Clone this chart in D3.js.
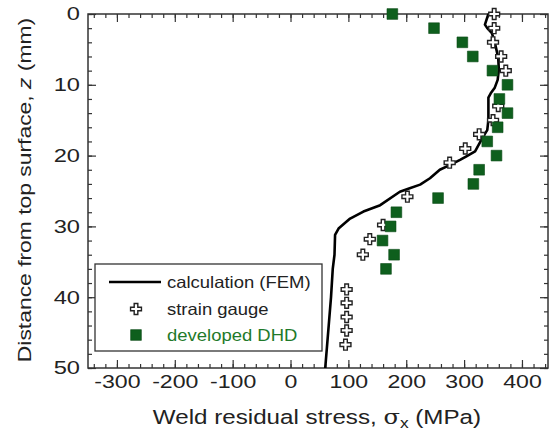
<!DOCTYPE html>
<html>
<head>
<meta charset="utf-8">
<script src="https://cdn.jsdelivr.net/npm/d3@7"></script>
<style>
  body { margin: 0; background: #fff; }
  svg text { font-family: "Liberation Sans", Arial, Helvetica, sans-serif; fill: #222; }
</style>
</head>
<body>
<div id="chart"></div>
<script>
// calculation (FEM): [stress MPa, depth mm]
var femStress = [342, 336, 340, 348, 353, 359, 360, 358, 353, 346, 342, 342, 340, 333, 327, 319, 304, 293, 276, 258, 241, 224, 206, 189, 155, 126, 103, 83, 77, 76, 73, 70, 66, 62, 60];
var femDepth  = [0, 1.5, 2, 2.7, 4, 6.2, 7.9, 9.3, 10.4, 11.2, 11.8, 15, 16.4, 17.3, 18.2, 19.4, 20.1, 20.6, 21.3, 22, 23.2, 24.1, 24.6, 25.1, 27, 27.9, 28.9, 30.3, 31.2, 34, 36, 40, 44, 48, 50];

// strain gauge
var gaugeStress = [352, 352, 350, 364, 372, 359, 350, 326, 302, 275, 202, 160, 137, 125, 97, 97, 97, 97, 95];
var gaugeDepth  = [0, 2, 4, 6, 8, 13, 15, 17, 19, 21, 25.8, 29.8, 31.8, 34, 38.9, 40.8, 42.8, 44.7, 46.7];

// developed DHD
var dhdStress = [176, 248, 297, 315, 349, 375, 361, 375, 358, 340, 356, 326, 316, 255, 183, 173, 159, 179, 165];
var dhdDepth  = [0, 2, 4, 6, 8, 10, 12, 14, 16, 18, 20, 22, 24, 26, 28, 30, 32, 34, 36];

var xTicks = [-300, -200, -100, 0, 100, 200, 300, 400];
var yTicks = [0, 10, 20, 30, 40, 50];
var legendLabels = ["calculation (FEM)", "strain gauge", "developed DHD"];

var width = 554, height = 430;
var plotL = 88, plotR = 548, plotT = 14, plotB = 368;
var green = "#0e5f1d";

var svg = d3.select("#chart").append("svg")
  .attr("width", width)
  .attr("height", height);

var x = d3.scaleLinear().domain([-350, 445]).range([plotL, plotR]);
var y = d3.scaleLinear().domain([0, 50]).range([plotT, plotB]);

var xMinor = d3.range(-340, 445, 20);
var yMinor = d3.range(0, 51, 2);

// the original lettering is wider than Helvetica, so stretch texts horizontally
function stretch(sel, s) {
  sel.each(function() {
    var t = d3.select(this);
    var tx = +t.attr("x") || 0, ty = +t.attr("y") || 0;
    t.attr("x", 0).attr("y", 0)
      .attr("transform", `translate(${tx},${ty}) scale(${s},1)`);
  });
}

/* axes, ticks pointing inward */
function axisGroup(axis, tx, ty) {
  var g = svg.append("g")
    .attr("transform", `translate(${tx},${ty})`)
    .call(axis);
  g.select(".domain").remove();
  g.selectAll(".tick line").attr("stroke", "#333").attr("stroke-width", 1.2);
  return g;
}

axisGroup(d3.axisBottom(x).tickValues(xMinor).tickSize(-4).tickFormat(""), 0, plotB);
axisGroup(d3.axisTop(x).tickValues(xMinor).tickSize(-4).tickFormat(""), 0, plotT);
axisGroup(d3.axisLeft(y).tickValues(yMinor).tickSize(-4).tickFormat(""), plotL, 0);
axisGroup(d3.axisRight(y).tickValues(yMinor).tickSize(-4).tickFormat(""), plotR, 0);

var xb = axisGroup(d3.axisBottom(x).tickValues(xTicks).tickSize(-8).tickPadding(7).tickFormat(d => String(d)), 0, plotB);
axisGroup(d3.axisTop(x).tickValues(xTicks).tickSize(-8).tickFormat(""), 0, plotT);
var yl = axisGroup(d3.axisLeft(y).tickValues(yTicks).tickSize(-8).tickPadding(8).tickFormat(d => String(d)), plotL, 0);
axisGroup(d3.axisRight(y).tickValues(yTicks).tickSize(-8).tickFormat(""), plotR, 0);

xb.selectAll("text").attr("font-size", 18.5).attr("fill", "#222").call(stretch, 1.25);
yl.selectAll("text").attr("font-size", 18.5).attr("fill", "#222").call(stretch, 1.28);

svg.append("rect")
  .attr("x", plotL).attr("y", plotT)
  .attr("width", plotR - plotL).attr("height", plotB - plotT)
  .attr("fill", "none").attr("stroke", "#333").attr("stroke-width", 1.5);

/* axis titles */
var xt = svg.append("text")
  .attr("x", 317).attr("y", 424)
  .attr("text-anchor", "middle").attr("font-size", 19.5);
xt.append("tspan").text("Weld residual stress, ");
xt.append("tspan").attr("font-family", "DejaVu Serif, Liberation Serif, serif").text("σ");
xt.append("tspan").attr("font-size", 14).attr("dy", 4).text("x");
xt.append("tspan").attr("dy", -4).text(" (MPa)");
xt.call(stretch, 1.24);

var yt = svg.append("text")
  .attr("transform", "translate(31,190) rotate(-90) scale(1.25,1)")
  .attr("text-anchor", "middle").attr("font-size", 18.3);
yt.append("tspan").text("Distance from top surface, ");
yt.append("tspan").attr("font-style", "italic").text("z");
yt.append("tspan").text(" (mm)");

/* FEM line */
var femData = femStress.map((s, i) => ({s: s, z: femDepth[i]}));
var line = d3.line().x(d => x(d.s)).y(d => y(d.z));
svg.append("path")
  .datum(femData)
  .attr("d", line)
  .attr("fill", "none")
  .attr("stroke", "#000")
  .attr("stroke-width", 2.6)
  .attr("stroke-linejoin", "round");

/* markers */
var cross = d3.symbol().type(d3.symbolCross).size(66);
var square = d3.symbol().type(d3.symbolSquare).size(115);

svg.append("g").selectAll("path")
  .data(gaugeStress.map((s, i) => ({s: s, z: gaugeDepth[i]})))
  .enter().append("path")
  .attr("d", cross)
  .attr("transform", d => `translate(${x(d.s)},${y(d.z)})`)
  .attr("fill", "#fff").attr("stroke", "#222").attr("stroke-width", 1.4);

svg.append("g").selectAll("path")
  .data(dhdStress.map((s, i) => ({s: s, z: dhdDepth[i]})))
  .enter().append("path")
  .attr("d", square)
  .attr("transform", d => `translate(${x(d.s)},${y(d.z)})`)
  .attr("fill", green).attr("stroke", "#0a4a16").attr("stroke-width", 0.6);

/* legend */
var lg = svg.append("g");
lg.append("rect")
  .attr("x", 95).attr("y", 264).attr("width", 227).attr("height", 87)
  .attr("fill", "#fff").attr("stroke", "#333").attr("stroke-width", 1.3);

lg.append("line")
  .attr("x1", 109).attr("x2", 161).attr("y1", 282).attr("y2", 282)
  .attr("stroke", "#000").attr("stroke-width", 2.6);
lg.append("path").attr("d", cross).attr("transform", "translate(136,309)")
  .attr("fill", "#fff").attr("stroke", "#222").attr("stroke-width", 1.4);
lg.append("path").attr("d", square).attr("transform", "translate(136,335)")
  .attr("fill", green).attr("stroke", "#0a4a16").attr("stroke-width", 0.6);

lg.selectAll("text.leg")
  .data(legendLabels).enter()
  .append("text")
  .attr("class", "leg")
  .attr("x", 167)
  .attr("y", (d, i) => 288 + i * 26.5)
  .attr("font-size", 16.5)
  .style("fill", (d, i) => i === 2 ? "#1f7a2a" : "#222")
  .text(d => d)
  .call(stretch, 1.12);
</script>
</body>
</html>
